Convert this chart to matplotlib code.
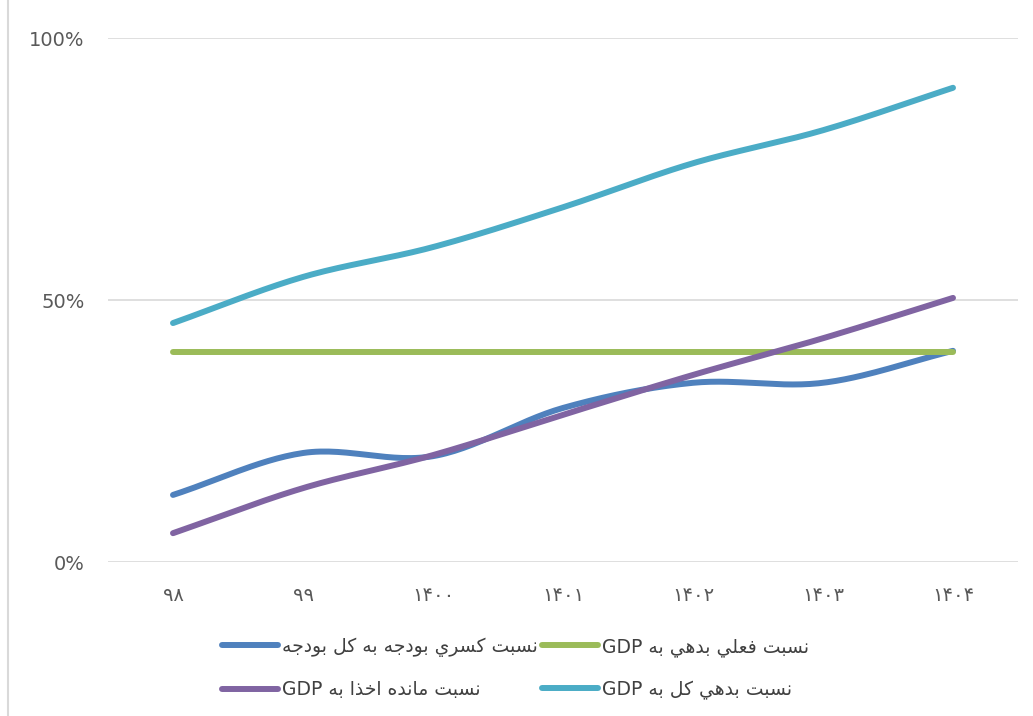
import numpy as np
import matplotlib
matplotlib.use("Agg")
import matplotlib.pyplot as plt
from matplotlib.lines import Line2D
from matplotlib.ticker import PercentFormatter

# data
years = ["۹۸", "۹۹", "۱۴۰۰", "۱۴۰۱", "۱۴۰۲", "۱۴۰۳", "۱۴۰۴"]
deficit_to_budget = [0.128, 0.208, 0.202, 0.294, 0.342, 0.342, 0.403]
current_debt_gdp = [0.40, 0.40, 0.40, 0.40, 0.40, 0.40, 0.40]
remaining_gdp = [0.055, 0.141, 0.204, 0.281, 0.357, 0.427, 0.504]
total_debt_gdp = [0.456, 0.544, 0.601, 0.677, 0.761, 0.824, 0.905]

labels = [
    "نسبت كسري بودجه به كل بودجه",
    "نسبت فعلي بدهي به GDP",
    "نسبت مانده اخذا به GDP",
    "نسبت بدهي كل به GDP",
]
colors = ["#4F81BD", "#9BBB59", "#8064A2", "#4BACC6"]

# contextual forms: isolated, final, initial, medial (None -> right-joining only)
FORMS = {
    "ا": (0xFE8D, 0xFE8E, None, None),
    "ب": (0xFE8F, 0xFE90, 0xFE91, 0xFE92),
    "ت": (0xFE95, 0xFE96, 0xFE97, 0xFE98),
    "ج": (0xFE9D, 0xFE9E, 0xFE9F, 0xFEA0),
    "خ": (0xFEA5, 0xFEA6, 0xFEA7, 0xFEA8),
    "د": (0xFEA9, 0xFEAA, None, None),
    "ذ": (0xFEAB, 0xFEAC, None, None),
    "ر": (0xFEAD, 0xFEAE, None, None),
    "س": (0xFEB1, 0xFEB2, 0xFEB3, 0xFEB4),
    "ع": (0xFEC9, 0xFECA, 0xFECB, 0xFECC),
    "ف": (0xFED1, 0xFED2, 0xFED3, 0xFED4),
    "ك": (0xFED9, 0xFEDA, 0xFEDB, 0xFEDC),
    "ل": (0xFEDD, 0xFEDE, 0xFEDF, 0xFEE0),
    "م": (0xFEE1, 0xFEE2, 0xFEE3, 0xFEE4),
    "ن": (0xFEE5, 0xFEE6, 0xFEE7, 0xFEE8),
    "ه": (0xFEE9, 0xFEEA, 0xFEEB, 0xFEEC),
    "و": (0xFEED, 0xFEEE, None, None),
    "ي": (0xFEF1, 0xFEF2, 0xFEF3, 0xFEF4),
}


def shape_arabic(text):
    """Shape Arabic letters and return them in visual (left-to-right) order."""
    out = []
    for i, ch in enumerate(text):
        if ch not in FORMS:
            out.append(ch)
            continue
        prev = text[i - 1] if i > 0 else ""
        nxt = text[i + 1] if i + 1 < len(text) else ""
        joins_prev = prev in FORMS and FORMS[prev][2] is not None
        joins_next = FORMS[ch][2] is not None and nxt in FORMS
        iso, fin, ini, med = FORMS[ch]
        if joins_prev and joins_next:
            code = med
        elif joins_prev:
            code = fin
        elif joins_next:
            code = ini
        else:
            code = iso
        out.append(chr(code))
    return "".join(out)[::-1]


def visual(label):
    if label.endswith(" GDP"):
        return "GDP " + shape_arabic(label[:-4])
    return shape_arabic(label)


def smooth(y, n=30):
    # cubic Hermite (Catmull-Rom) curve through the points, like Excel's smoothed line
    y = np.asarray(y, dtype=float)
    x = np.arange(len(y), dtype=float)
    m = np.gradient(y)
    xs, ys = [], []
    for i in range(len(y) - 1):
        t = np.linspace(0, 1, n, endpoint=False)
        h00 = 2 * t**3 - 3 * t**2 + 1
        h10 = t**3 - 2 * t**2 + t
        h01 = -2 * t**3 + 3 * t**2
        h11 = t**3 - t**2
        xs.append(x[i] + t)
        ys.append(h00 * y[i] + h10 * m[i] + h01 * y[i + 1] + h11 * m[i + 1])
    xs.append([x[-1]])
    ys.append([y[-1]])
    return np.concatenate(xs), np.concatenate(ys)


plt.rcParams["font.family"] = ["DejaVu Sans"]

fig = plt.figure(figsize=(10.33, 7.16), dpi=100)
ax = fig.add_axes([108 / 1033, 1 - 562 / 716, 910 / 1033, 524 / 716])

series = [deficit_to_budget, current_debt_gdp, remaining_gdp, total_debt_gdp]
handles = []
for vals, col, lab in zip(series, colors, labels):
    sx, sy = smooth(vals)
    ln, = ax.plot(sx, sy, color=col, lw=4.3, solid_capstyle="round", label=visual(lab))
    handles.append(ln)

ax.set_xlim(-0.5, len(years) - 0.5)
ax.set_ylim(0, 1)
ax.set_yticks([0, 0.5, 1.0])
ax.yaxis.set_major_formatter(PercentFormatter(1.0, decimals=0))
ax.set_xticks(range(len(years)))
ax.set_xticklabels(years)
ax.grid(axis="y", color="#D9D9D9", lw=1.2)
ax.set_axisbelow(True)
for s in ax.spines.values():
    s.set_visible(False)
ax.tick_params(axis="both", length=0, colors="#595959", labelsize=14)
ax.tick_params(axis="y", pad=17)
ax.tick_params(axis="x", pad=17)

# chart border on the left
fig.add_artist(Line2D([8 / 1033, 8 / 1033], [0, 1], color="#D9D9D9", lw=1.5))

order = [0, 2, 1, 3]
leg = fig.legend([handles[i] for i in order], [visual(labels[i]) for i in order],
                 ncol=2, loc="upper left", bbox_to_anchor=(205 / 1033, 1 - 620 / 716),
                 frameon=False, fontsize=13.5, handlelength=3.0, handletextpad=0.2,
                 columnspacing=0.2, labelspacing=1.25, labelcolor="#404040")

fig.savefig("out.png", dpi=100, facecolor="white")
